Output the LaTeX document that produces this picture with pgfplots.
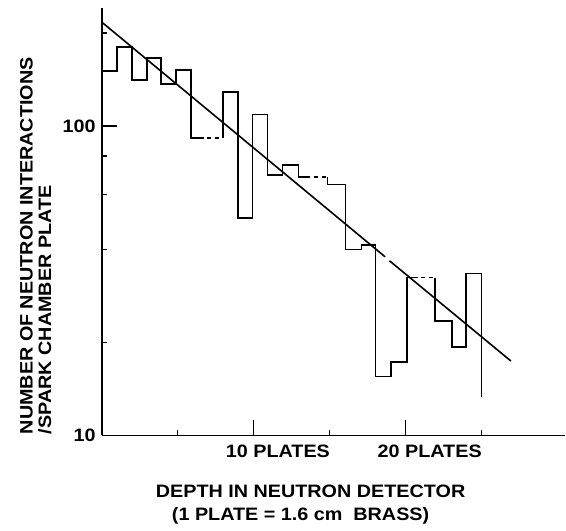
\documentclass[border=0pt]{standalone}
\usepackage{fontspec}
\setmainfont{Liberation Sans}[FakeStretch=1.1]
\usepackage{pgfplots}
\pgfplotsset{compat=1.18}

\begin{document}
\begin{tikzpicture}
\begin{axis}[
    scale only axis,
    width=464pt, height=428pt,
    xmin=0, xmax=30.53,
    ymode=log, ymin=10, ymax=241,
    axis lines*=left,
    axis line style={line width=1.5pt},
    xtick={10,20}, xticklabels={10 PLATES,20 PLATES},
    minor xtick={5,15,25},
    ytick={10,100}, yticklabels={10,100},
    minor ytick={20,40,60,80,200},
    tick align=inside,
    major tick length=15pt, minor tick length=5pt,
    every tick/.style={line width=1.3pt, black},
    font=\fontsize{18}{20}\selectfont\bfseries,
    xticklabel style={anchor=north west, inner sep=0pt, xshift=-28pt, yshift=-9pt},
    yticklabel style={anchor=east, inner sep=0pt, xshift=-6pt},
    xlabel={DEPTH IN NEUTRON DETECTOR\\(1 PLATE = 1.6 cm~~BRASS)\hspace*{20pt}},
    xlabel style={at={([xshift=209pt,yshift=-49pt]axis description cs:0,0)},
        anchor=north, inner sep=0pt, align=center,
        font=\fontsize{18}{23}\selectfont\bfseries},
    ylabel={NUMBER OF NEUTRON INTERACTIONS\\/SPARK CHAMBER PLATE},
    ylabel style={at={([xshift=-82pt,yshift=1pt]axis description cs:0,0)},
        rotate=0, anchor=north west, inner sep=0pt, align=left,
        font=\fontsize{18}{18.5}\selectfont\bfseries},
    clip=false,
]

% histogram (solid parts)
\addplot[line width=1.7pt] coordinates {
(0,151) (0.99,151) (0.99,179.8) (1.97,179.8) (1.97,141.3) (2.96,141.3)
(2.96,166) (3.88,166) (3.88,136.5) (4.87,136.5) (4.87,151.6) (5.86,151.6)
(5.86,91.7) (6.7,91.7)
};
\addplot[line width=1.7pt, dash pattern=on 4pt off 4pt] coordinates {(6.95,91.7) (7.96,91.7)};
\addplot[line width=1.7pt] coordinates {
(7.96,91.7) (7.96,128.8) (8.95,128.8) (8.95,50.5) (9.93,50.5) (9.93,109)
(10.92,109) (10.92,69.4) (11.91,69.4) (11.91,74.8) (12.96,74.8) (12.96,68.4)
(13.7,68.4)
};
\addplot[line width=1.7pt, dash pattern=on 4pt off 4pt] coordinates {(13.95,68.4) (14.87,68.4)};
\addplot[line width=1.7pt] coordinates {
(14.87,68.4) (14.87,64.8) (16.05,64.8) (16.05,39.9) (17.1,39.9) (17.1,41.3)
(18.03,41.3) (18.03,15.5) (19.06,15.5) (19.06,17.3) (20.1,17.3) (20.1,32.4)
(20.8,32.4)
};
\addplot[line width=1.7pt, dash pattern=on 4pt off 4pt] coordinates {(21.05,32.4) (21.97,32.4)};
\addplot[line width=1.7pt] coordinates {
(21.97,32.4) (21.97,23.4) (23.07,23.4) (23.07,19.3) (24,19.3) (24,33.4)
(25.02,33.4) (25.02,13.3)
};

% fitted line
\addplot[line width=1.6pt] coordinates {(0,216.8) (18.66,37.8)};
\addplot[line width=1.6pt] coordinates {(18.95,36.7) (26.95,17.4)};

\end{axis}
\path[use as bounding box] (-102pt,-95pt) rectangle (464pt,436pt);
\end{tikzpicture}
\end{document}
